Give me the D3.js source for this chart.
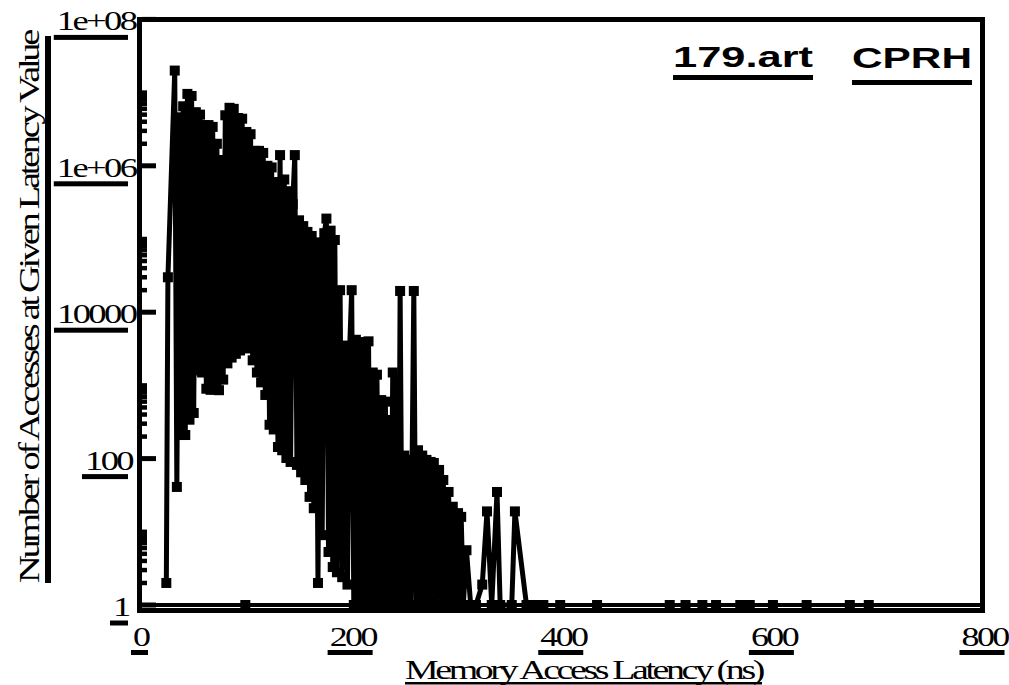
<!DOCTYPE html>
<html><head><meta charset="utf-8">
<script src="https://cdn.jsdelivr.net/npm/d3@7"></script>
<style>body{margin:0;background:#fff}svg{display:block}</style>
</head><body>
<svg id="chart" width="1009" height="685"></svg>
<script>
// ---- data ----
const latency = [25,26.5,33,35,37,39,41,43,45,47,49,51,53,55,57,59,61,63,65,67,69,71,73,75,77,79,81,83,85,87,89,91,93,95,97,99,101,103,105,107,109,111,113,115,117,119,121,123,125,127,129,131,133,135,137,139,141,143,145,147,149,151,153,155,157,159,161,163,165,167,169,171,173,175,177,179,181,183,185,187,190,192,195,197,199,201,203,205,207,209,211,213,215,217,219,221,223,225,227,229,231,233,235,236.5,238,240,242,244,245.5,247,249,251,253,255,257,260,262,264,266,268,270,272,274,276,277.5,279,281,284,286,288,290,293,295,297,299,302,303.5,305,307,310,314,319,325,329.5,334,339,342,353,356,367,375,383];
const counts = [2,30000,2.0e7,41,4.6e6,210,6.5e6,210,9.6e6,340,9.0e6,420,5.4e6,1600,5.0e6,1500,3.6e6,900,3.6e6,870,3.4e6,880,2.0e6,860,1.2e6,1200,4.9e6,2000,6.2e6,2400,6.0e6,2700,4.5e6,3000,4.4e6,3800,2.9e6,3200,2.7e6,2200,1.6e6,1500,1.6e6,1100,1.5e6,740,1.0e6,290,9.5e5,250,6.0e5,144,1.4e6,130,6.5e5,102,4.5e5,90,3.0e5,1.4e6,82,1.8e5,65,1.5e5,51,1.25e5,30,1.1e5,21,8.3e4,2,9.0e4,9,1.2e5,1.9e5,5.3,1.3e5,3.3,9.7e4,2.8,2.0e4,2.4,3500,1.9,3000,2.0e4,1,4200,1,3900,1,3900,1,4000,1,1500,1,1400,1,630,1,600,1,337,1,1500,1,1200,1,19500,1,110,1,96,1,19500,1,130,1,110,1,96,1,90,1,87,1,70,1,51,1,35,1,22,1,18,1,16,1,5.6,1,1,1.9,19,1,35,1,1,19,1,1,1];
const floorMarkerLatency = [100,399,434,503,518,534,547,570,579,601,633,674,692];
const floorValue = 1;
const xTicks = [0,200,400,600,800];
const xTickLabels = ["0","200","400","600","800"];
const yTicks = [1,100,1e4,1e6,1e8];
const yTickLabels = ["1","100","10000","1e+06","1e+08"];
const yMinorDecades = [1,100,1e4,1e6];
const minorMultipliers = [2,3,4,5,6,7,8,9,10];
const title1 = "179.art", title2 = "CPRH";
const xTitle = "Memory Access Latency (ns)";
const yTitle = "Number of Accesses at Given Latency Value";

// ---- chart ----
const svg = d3.select("#chart");
const x = d3.scaleLinear().domain([0,800]).range([140,982.5]);
const y = d3.scaleLog().domain([1,1e8]).range([605,19.4]);
const serif = "'Liberation Serif','Times New Roman',serif";
const sans = "'Liberation Sans',Arial,Helvetica,sans-serif";

// frame
svg.append("rect").attr("x",139.5).attr("y",19.5).attr("width",843).attr("height",591)
  .attr("fill","none").attr("stroke","#000").attr("stroke-width",5);

// y ticks
const minor = [];
yMinorDecades.forEach(d => minorMultipliers.forEach(m => minor.push(d*m)));
svg.append("g").selectAll("line").data(minor).join("line")
  .attr("x1",142).attr("x2",147).attr("y1",d=>y(d)).attr("y2",d=>y(d))
  .attr("stroke","#000").attr("stroke-width",4.5);
svg.append("g").selectAll("line").data(yTicks).join("line")
  .attr("x1",142).attr("x2",156).attr("y1",d=>y(d)).attr("y2",d=>y(d))
  .attr("stroke","#000").attr("stroke-width",5);

// helper: stretched, tightly spaced text
function stretched(g, str, size, family, weight, k, ls) {
  const t = g.append("text").attr("font-size",size).attr("font-family",family)
    .attr("font-weight",weight).attr("fill","#000").text(str);
  const w = t.node().getComputedTextLength();
  t.attr("letter-spacing", ls).attr("textLength", w*k).attr("lengthAdjust","spacingAndGlyphs");
  return {t, w};
}

// y tick labels
const gy = svg.append("g");
yTicks.forEach((v,i) => {
  const base = y(v) + 11;
  const {t, w} = stretched(gy, yTickLabels[i], 28, serif, "normal", 1.12, "-2px");
  const left = 127 - w;
  t.attr("x", left).attr("y", base);
  gy.append("rect").attr("x", left-3).attr("y", base+4.5).attr("width", w+4).attr("height",5).attr("fill","#000");
});

// x tick labels
const gx = svg.append("g");
xTicks.forEach((v,i) => {
  const base = 646;
  const {t, w} = stretched(gx, xTickLabels[i], 28, serif, "normal", 1.1, "-2px");
  const left = x(v) - w/2;
  t.attr("x", left).attr("y", base);
  gx.append("rect").attr("x", left-2).attr("y", 650).attr("width", w+3).attr("height",5).attr("fill","#000");
});

// axis titles
svg.append("text").attr("x",405).attr("y",679).attr("font-size",28).attr("letter-spacing","-2.5px")
  .attr("font-family",serif).attr("textLength",357).attr("lengthAdjust","spacingAndGlyphs").text(xTitle);
svg.append("rect").attr("x",405).attr("y",682).attr("width",357).attr("height",2.5).attr("fill","#000");

svg.append("text").attr("transform","translate(39,583) rotate(-90)").attr("font-size",29).attr("letter-spacing","-2.5px")
  .attr("font-family",serif).attr("textLength",551).attr("lengthAdjust","spacingAndGlyphs").text(yTitle);
svg.append("rect").attr("x",45).attr("y",36).attr("width",6).attr("height",547).attr("fill","#000");

// titles
svg.append("text").attr("x",673).attr("y",67).attr("font-size",29).attr("font-weight","bold")
  .attr("font-family",sans).attr("textLength",140).attr("lengthAdjust","spacingAndGlyphs").text(title1);
svg.append("rect").attr("x",673).attr("y",75).attr("width",140).attr("height",5).attr("fill","#000");
svg.append("text").attr("x",852).attr("y",68).attr("font-size",29).attr("font-weight","bold")
  .attr("font-family",sans).attr("textLength",120).attr("lengthAdjust","spacingAndGlyphs").text(title2);
svg.append("rect").attr("x",852).attr("y",80).attr("width",120).attr("height",5).attr("fill","#000");

// floor line (zero-count baseline) and its markers
svg.append("line").attr("x1",x(0)).attr("x2",x(800)).attr("y1",y(floorValue)).attr("y2",y(floorValue))
  .attr("stroke","#000").attr("stroke-width",4);
svg.append("g").selectAll("rect").data(floorMarkerLatency).join("rect")
  .attr("x",d=>x(d)-5).attr("y",y(floorValue)-5).attr("width",10).attr("height",10).attr("fill","#000");

// main series
const pts = latency.map((l,i)=>({l, c: counts[i]}));
svg.append("path").datum(pts)
  .attr("d", d3.line().x(d=>x(d.l)).y(d=>y(d.c)))
  .attr("fill","none").attr("stroke","#000").attr("stroke-width",5).attr("stroke-linejoin","round");
svg.append("g").selectAll("rect").data(pts).join("rect")
  .attr("x",d=>x(d.l)-5).attr("y",d=>y(d.c)-5).attr("width",10).attr("height",10).attr("fill","#000");
</script>
</body></html>
